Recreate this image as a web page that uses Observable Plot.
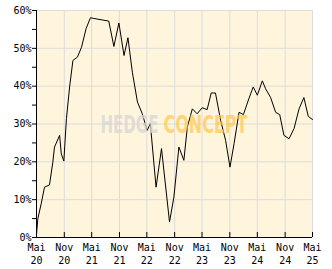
<!DOCTYPE html>
<html>
<head>
<meta charset="utf-8">
<script src="https://cdn.jsdelivr.net/npm/d3@7"></script>
<script src="https://cdn.jsdelivr.net/npm/@observablehq/plot@0.6"></script>
<style>
  html, body { margin: 0; padding: 0; background: #ffffff; }
  #chart svg { display: block; }
</style>
</head>
<body>
<div id="chart"></div>
<script>
// ---- data ----
const dates = [
  "2020-05-01","2020-05-10","2020-06-01","2020-06-23","2020-07-26","2020-08-17","2020-08-28",
  "2020-10-01","2020-10-12","2020-10-29","2020-11-15","2020-12-06","2020-12-28","2021-01-27",
  "2021-02-23","2021-03-25","2021-04-23","2021-05-15","2021-08-22","2021-09-25","2021-10-28",
  "2021-12-01","2021-12-27","2022-01-25","2022-02-28","2022-04-01","2022-05-03","2022-05-24",
  "2022-07-01","2022-08-06","2022-09-28","2022-10-27","2022-11-29","2023-01-01","2023-01-24",
  "2023-02-26","2023-03-30","2023-05-02","2023-06-04","2023-07-01","2023-07-29","2023-09-01",
  "2023-10-04","2023-11-02","2023-11-29","2024-01-01","2024-01-30","2024-03-06","2024-04-04",
  "2024-05-01","2024-06-03","2024-06-25","2024-07-28","2024-08-30","2024-09-26","2024-10-24",
  "2024-11-27","2024-12-30","2025-02-01","2025-03-05","2025-04-03","2025-05-01"
];
const values = [
  0.8, 5.0, 8.9, 13.3, 13.9, 19.9, 23.9,
  27.0, 22.1, 20.2, 31.4, 39.8, 46.8, 47.7,
  50.3, 55.2, 58.1, 57.9, 57.2, 50.5, 56.7,
  48.1, 52.8, 43.7, 35.8, 32.7, 28.3, 30.1,
  13.3, 23.5, 4.1, 10.7, 23.9, 20.4, 29.2,
  34.0, 32.7, 34.3, 33.8, 38.2, 38.2, 31.0,
  25.7, 18.6, 24.8, 33.1, 32.5, 36.7, 39.8,
  37.6, 41.4, 39.3, 37.0, 33.1, 32.5, 27.0,
  26.1, 28.8, 34.0, 37.0, 32.0, 31.2
];
const xTickDates = [
  "2020-05-01","2020-11-01","2021-05-01","2021-11-01","2022-05-01","2022-11-01",
  "2023-05-01","2023-11-01","2024-05-01","2024-11-01","2025-05-01"
];
const xTickLabels = [
  "Mai\n20","Nov\n20","Mai\n21","Nov\n21","Mai\n22","Nov\n22",
  "Mai\n23","Nov\n23","Mai\n24","Nov\n24","Mai\n25"
];
const yTicks = [0, 10, 20, 30, 40, 50, 60];
const yMinorTicks = [5, 15, 25, 35, 45, 55];
const yTickLabels = ["0%", "10%", "20%", "30%", "40%", "50%", "60%"];
const watermarkWords = ["HEDGE", "CONCEPT"];

// ---- build ----
const parse = d3.utcParse("%Y-%m-%d");
const data = dates.map((d, i) => ({date: parse(d), value: values[i]}));
const xTicks = xTickDates.map(parse);
const xLabelOf = d => xTickLabels[xTicks.findIndex(t => +t === +d)] ?? "";
const yLabelOf = d => yTickLabels[yTicks.indexOf(d)] ?? "";

const font = "DejaVu Sans Mono";
const gridColor = "#dcdcdc";
const wmFont = "'DejaVu Sans Condensed', 'Liberation Sans', sans-serif";

const chart = Plot.plot({
  width: 332,
  height: 269,
  marginLeft: 36,
  marginRight: 20,
  marginTop: 10,
  marginBottom: 32,
  style: {fontFamily: font, fontSize: "10px", background: "#ffffff", color: "#000"},
  x: {type: "utc", domain: [xTicks[0], xTicks[xTicks.length - 1]], label: null},
  y: {domain: [0, 60], label: null},
  marks: [
    Plot.frame({fill: "#fef5dc", stroke: null}),
    Plot.gridX(xTicks, {stroke: gridColor, strokeOpacity: 1, strokeWidth: 1}),
    Plot.gridY(yTicks, {stroke: gridColor, strokeOpacity: 1, strokeWidth: 1}),
    Plot.line(data, {x: "date", y: "value", stroke: "#000", strokeWidth: 1}),
    Plot.text([watermarkWords[0]], {
      frameAnchor: "middle", textAnchor: "start", dx: -74, dy: 1,
      fontSize: 24, fontWeight: "bold", fontFamily: wmFont,
      fill: "#d6d6d6", fillOpacity: 0.75
    }),
    Plot.text([watermarkWords[1]], {
      frameAnchor: "middle", textAnchor: "start", dx: -11, dy: 1,
      fontSize: 24, fontWeight: "bold", fontFamily: wmFont,
      fill: "#ffc850", fillOpacity: 0.72
    }),
    // x ticks pointing inward
    Plot.tickX(xTicks, {x: d => d, stroke: "#000", strokeWidth: 1, insetTop: 222}),
    Plot.axisX({ticks: xTicks, tickSize: 0, tickPadding: 5, tickFormat: xLabelOf,
      lineHeight: 1.25, fontFamily: font, fontSize: 10, fill: "#000", label: null}),
    Plot.axisY({ticks: yTicks, tickSize: 4, tickPadding: 1, tickFormat: yLabelOf,
      fontFamily: font, fontSize: 10, fill: "#000", stroke: "#000", label: null}),
    Plot.axisY({ticks: yMinorTicks, tickSize: 4, text: null, stroke: "#000", label: null}),
    Plot.ruleX([xTicks[0]], {stroke: "#000", strokeWidth: 1}),
    Plot.ruleY([0], {stroke: "#000", strokeWidth: 1})
  ]
});

const widths = {HEDGE: 58, CONCEPT: 84};
d3.select(chart).selectAll("text")
  .filter(function () { return this.textContent in widths; })
  .each(function () {
    d3.select(this)
      .attr("textLength", widths[this.textContent])
      .attr("lengthAdjust", "spacingAndGlyphs");
  });

document.getElementById("chart").appendChild(chart);
</script>
</body>
</html>
